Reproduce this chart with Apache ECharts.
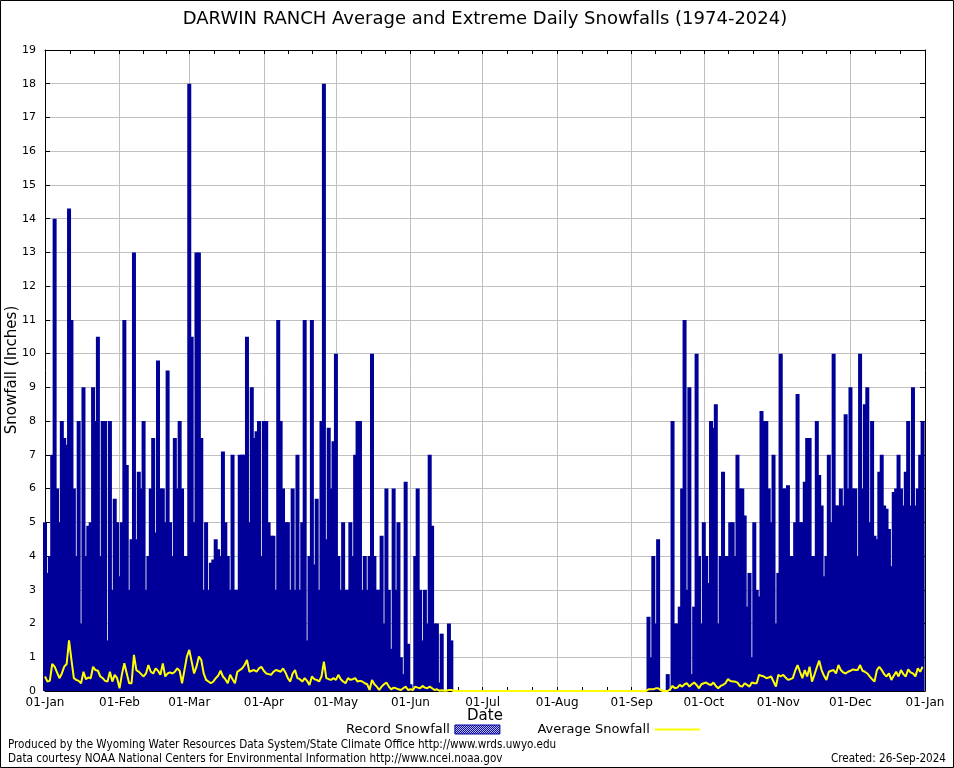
<!DOCTYPE html>
<html><head><meta charset="utf-8">
<script src="https://cdn.jsdelivr.net/npm/echarts/dist/echarts.min.js"></script>
<style>html,body{margin:0;padding:0;background:#fff}#c{width:954px;height:768px}</style>
</head><body><div id="c"></div>
<script>
// ---- Data (daily record snowfall, inches) ----
const recJan = [5,3.5,4,7,14,6,5,8,7.5,7.3,14.3,11,6,4,8,2,9,4,4.9,5,9,8,10.5,4,8,8,1.5,8,3,5.7,5];
const recFeb = [3.4,5,11,6.7,3,4.5,13,4.5,6.5,6,8,3,4,6,7.5,4.7,9.8,6,6,5,9.5,5,4,7.5,6,8,6,4,4];
const recMar = [18,10.5,5,13,13,7.5,3,5,3,3.8,3.9,4.5,4.2,4,7.1,5,4,3,7,3,3,7,7,7,10.5,5,9,7.5,7.7,8,4];
const recApr = [8,8,5,4.6,4.6,3,11,8,6,5,5,3,6,3,7,3,5,11,1.5,4,11,3.75,5.7,3,8,18,4.5,7.8,6,7.4];
const recMay = [10,4,3,5,3,3,5,4,7,8,8,3,4,3,4,10,4,3,3,4.6,2,6,3,1.25,6,3,5,1,0.5,6.2,1.4];
const recJun = [0.2,0,4,6,3,1.5,3,2,7,4.9,2,2,0.25,1.7,0,0,2,1.5,0,0,0,0,0,0,0,0,0,0,0,0];
const recJul = [0,0,0,0,0,0,0,0,0,0,0,0,0,0,0,0,0,0,0,0,0,0,0,0,0,0,0,0,0,0,0];
const recAug = [0,0,0,0,0,0,0,0,0,0,0,0,0,0,0,0,0,0,0,0,0,0,0,0,0,0,0,0,0,0,0];
const recSep = [0,0,0,0,0,0,0,2.2,1,4,2,4.5,0,0,0,0.5,0,8,2,2,2.5,6,11,3,9,0.5,2.5,10,4,2];
const recOct = [5,4,3.2,8,7.8,8.5,2,4,6.5,4,4,5,5,4,7,6,6,5.2,2.5,3.5,1,5,3,2.8,8.3,8,8,6,5,7,2];
const recNov = [3.5,10,6,6,6.1,4,4,5,8.8,5,5,6.2,7.5,7.5,4,4,8,6.4,5.5,3.4,4,7,5,10,5.5,5.5,6,5.5,8.2,6];
const recDec = [9,6,6,4,10,6,8.5,9,5,8,4.6,4.5,6.5,7,5.5,5.4,4.8,3.7,5.9,6,7,6,5.5,6.5,8,5.5,9,5.5,6,7,8];

// ---- Data (daily average snowfall, inches) ----
const avgJan = [0.43,0.28,0.3,0.8,0.72,0.55,0.38,0.52,0.72,0.8,1.5,0.92,0.38,0.33,0.3,0.23,0.57,0.35,0.4,0.38,0.72,0.62,0.6,0.43,0.38,0.3,0.28,0.57,0.28,0.48,0.38];
const avgFeb = [0.08,0.5,0.82,0.52,0.23,0.23,1.07,0.62,0.57,0.5,0.43,0.52,0.77,0.57,0.52,0.67,0.6,0.48,0.82,0.43,0.52,0.55,0.52,0.57,0.67,0.6,0.23,0.62,1.02];
const avgMar = [1.22,0.87,0.52,0.72,1.02,0.92,0.52,0.33,0.28,0.23,0.28,0.38,0.45,0.6,0.43,0.35,0.23,0.48,0.35,0.23,0.57,0.62,0.67,0.77,0.92,0.57,0.6,0.62,0.57,0.67,0.72];
const avgApr = [0.6,0.52,0.5,0.48,0.57,0.62,0.6,0.57,0.67,0.55,0.38,0.28,0.52,0.62,0.38,0.35,0.28,0.38,0.3,0.18,0.43,0.35,0.33,0.28,0.43,0.87,0.38,0.35,0.33,0.38];
const avgMay = [0.33,0.48,0.35,0.28,0.23,0.38,0.33,0.35,0.38,0.28,0.3,0.28,0.23,0.2,0.03,0.33,0.2,0.13,0.03,0.13,0.2,0.25,0.13,0.05,0.1,0.08,0.05,0.03,0.08,0.13,0.03];
const avgJun = [0.05,0.03,0.13,0.1,0.08,0.15,0.1,0.08,0.13,0.08,0.03,0.05,0.01,0.02,0.01,0.01,0.03,0.03,0,0,0,0,0,0,0,0,0,0,0,0];
const avgJul = [0,0,0,0,0,0,0,0,0,0,0,0,0,0,0,0,0,0,0,0,0,0,0,0,0,0,0,0,0,0,0];
const avgAug = [0,0,0,0,0,0,0,0,0,0,0,0,0,0,0,0,0,0,0,0,0,0,0,0,0,0,0,0,0,0,0];
const avgSep = [0,0,0,0,0,0,0,0.05,0.05,0.05,0.08,0.08,0.03,0,0,0,0.05,0.15,0.08,0.1,0.18,0.13,0.2,0.23,0.13,0.2,0.25,0.18,0.08,0.2];
const avgOct = [0.23,0.25,0.2,0.18,0.25,0.15,0.08,0.15,0.18,0.23,0.35,0.3,0.28,0.28,0.25,0.15,0.13,0.23,0.18,0.13,0.25,0.23,0.23,0.48,0.45,0.43,0.38,0.4,0.43,0.28,0.13];
const avgNov = [0.48,0.43,0.48,0.4,0.33,0.35,0.38,0.6,0.77,0.57,0.38,0.62,0.43,0.72,0.28,0.48,0.7,0.9,0.62,0.45,0.33,0.57,0.6,0.62,0.52,0.77,0.62,0.55,0.52,0.57];
const avgDec = [0.6,0.64,0.62,0.62,0.77,0.6,0.57,0.52,0.43,0.35,0.28,0.62,0.72,0.62,0.5,0.43,0.52,0.33,0.45,0.57,0.43,0.62,0.5,0.43,0.64,0.55,0.52,0.43,0.67,0.57,0.72];

// ---- Tick labels ----
const tickLabels = ['01-Jan','01-Feb','01-Mar','01-Apr','01-May','01-Jun','01-Jul','01-Aug','01-Sep','01-Oct','01-Nov','01-Dec','01-Jan'];

const recMonths = [recJan,recFeb,recMar,recApr,recMay,recJun,recJul,recAug,recSep,recOct,recNov,recDec];
const avgMonths = [avgJan,avgFeb,avgMar,avgApr,avgMay,avgJun,avgJul,avgAug,avgSep,avgOct,avgNov,avgDec];
const record = [].concat(...recMonths);
const average = [].concat(...avgMonths);

const monthStarts = [0];
recMonths.forEach(m => monthStarts.push(monthStarts[monthStarts.length-1] + m.length));
const allTicks = [];
for (let i = 0; i < monthStarts.length; i++) {
  allTicks.push(monthStarts[i]);
  if (i < monthStarts.length - 1) {
    const s = monthStarts[i], e = monthStarts[i+1];
    allTicks.push(s + (e - s) / 3, s + 2 * (e - s) / 3);
  }
}
const total = monthStarts[monthStarts.length-1];

const recData = record.map((v, i) => [i, v]);
const avgData = average.map((v, i) => [i, v]);

// legend hatch pattern
const pc = document.createElement('canvas'); pc.width = 2; pc.height = 2;
const g = pc.getContext('2d');
g.fillStyle = '#000099'; g.fillRect(0,0,2,2);
g.fillStyle = '#c8c8ff'; g.fillRect(0,0,1,1); g.fillRect(1,1,1,1);

const FONT = 'DejaVu Sans';
const chart = echarts.init(document.getElementById('c'), null, {renderer: 'canvas'});
const option = {
  animation: false,
  backgroundColor: '#fff',
  grid: {left: 45, top: 50, right: 29, bottom: 77, containLabel: false, outerBoundsMode: 'none'},
  legend: {
    left: 341, top: 718, align: 'right', itemGap: 37, itemWidth: 45, itemHeight: 9,
    textStyle: {fontFamily: FONT, fontSize: 13, color: '#000'},
    data: [
      {name: 'Record Snowfall', icon: 'rect', itemStyle: {color: {image: pc, repeat: 'repeat'}, borderColor: '#000099', borderWidth: 1}},
      {name: 'Average Snowfall', itemStyle: {opacity: 0}}
    ]
  },
  xAxis: [
    {
      type: 'value', min: 0, max: total, position: 'bottom',
      axisLine: {show: true, onZero: false, lineStyle: {color: '#000', width: 1}},
      axisTick: {show: true, inside: true, length: 4, customValues: allTicks, lineStyle: {color: '#000'}},
      axisLabel: {
        customValues: monthStarts, showMinLabel: true, showMaxLabel: true,
        formatter: v => tickLabels[monthStarts.indexOf(v)],
        fontFamily: FONT, fontSize: 12, color: '#000', margin: 6
      },
      splitLine: {show: false}
    },
    {
      type: 'value', min: 0, max: total, position: 'top',
      axisLine: {show: true, onZero: false, lineStyle: {color: '#000', width: 1}},
      axisTick: {show: true, inside: true, length: 4, customValues: allTicks, lineStyle: {color: '#000'}},
      axisLabel: {show: false}, splitLine: {show: false}
    },
    {
      type: 'value', min: 0, max: total, position: 'bottom',
      axisLine: {show: false}, axisTick: {show: false, customValues: monthStarts},
      axisLabel: {show: false},
      splitLine: {show: true, lineStyle: {color: '#c0c0c0', width: 1}}
    }
  ],
  yAxis: [
    {
      type: 'value', min: 0, max: 19, interval: 1, position: 'left',
      axisLine: {show: true, onZero: false, lineStyle: {color: '#000', width: 1}},
      axisTick: {show: true, inside: true, length: 5, lineStyle: {color: '#000'}},
      axisLabel: {fontFamily: FONT, fontSize: 11, color: '#000', margin: 9},
      splitLine: {show: true, lineStyle: {color: '#c0c0c0', width: 1}}
    },
    {
      type: 'value', min: 0, max: 19, interval: 1, position: 'right',
      axisLine: {show: true, onZero: false, lineStyle: {color: '#000', width: 1}},
      axisTick: {show: true, inside: true, length: 5, lineStyle: {color: '#000'}},
      axisLabel: {show: false}, splitLine: {show: false}
    }
  ],
  series: [
    {
      name: 'Record Snowfall', type: 'bar', xAxisIndex: 0, yAxisIndex: 0,
      data: recData, barWidth: 4, z: 2,
      itemStyle: {color: '#000099'}, emphasis: {disabled: true}
    },
    {
      name: 'Average Snowfall', type: 'line', xAxisIndex: 0, yAxisIndex: 0,
      data: avgData, showSymbol: false, symbol: 'none', z: 3,
      lineStyle: {color: '#ffff00', width: 2}, itemStyle: {color: '#ffff00'}
    }
  ],
  graphic: [
    {type: 'text', x: 485, y: 10, style: {text: 'DARWIN RANCH Average and Extreme Daily Snowfalls (1974-2024)', textAlign: 'center', font: '18px "DejaVu Sans"', fill: '#000'}},
    {type: 'text', x: 485, y: 716, style: {text: 'Date', textAlign: 'center', textVerticalAlign: 'middle', font: '15px "DejaVu Sans"', fill: '#000'}},
    {type: 'text', x: 12, y: 370, rotation: Math.PI / 2, style: {text: 'Snowfall (Inches)', textAlign: 'center', textVerticalAlign: 'middle', font: '15px "DejaVu Sans"', fill: '#000'}},
    {type: 'text', x: 8, y: 739, style: {text: 'Produced by the Wyoming Water Resources Data System/State Climate Office http://www.wrds.uwyo.edu', font: '11.6px "DejaVu Sans Condensed", "DejaVu Sans"', fill: '#000'}},
    {type: 'text', x: 8, y: 753, style: {text: 'Data courtesy NOAA National Centers for Environmental Information http://www.ncei.noaa.gov', font: '11.6px "DejaVu Sans Condensed", "DejaVu Sans"', fill: '#000'}},
    {type: 'text', x: 946, y: 753, style: {text: 'Created: 26-Sep-2024', textAlign: 'right', font: '11.6px "DejaVu Sans Condensed", "DejaVu Sans"', fill: '#000'}},
    {type: 'rect', shape: {x: 0.5, y: 0.5, width: 953, height: 767}, style: {fill: 'none', stroke: '#000', lineWidth: 1}, silent: true}
  ]
};
chart.setOption(option);
</script></body></html>
